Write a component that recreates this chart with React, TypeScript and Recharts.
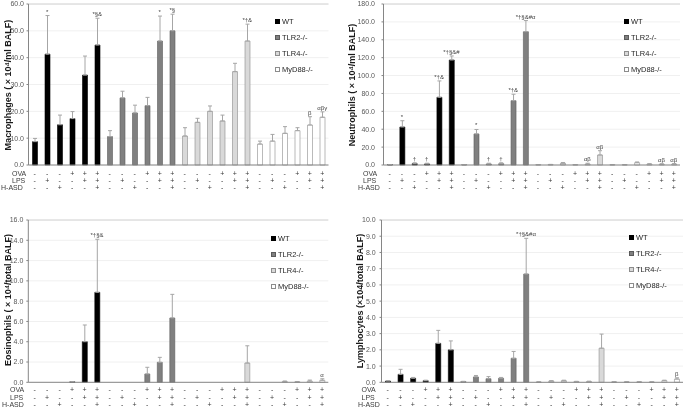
import React from "react";
import {
  ComposedChart,
  Bar,
  Cell,
  ErrorBar,
  Line,
  LabelList,
  XAxis,
  YAxis,
  CartesianGrid,
  ReferenceLine,
  Legend,
} from "recharts";

const FONT = '"Liberation Sans", Arial, Helvetica, sans-serif';

// groups of six bars, one group per mouse strain
const genotypes = ["WT", "TLR2-/-", "TLR4-/-", "MyD88-/-"];
const genoFill = ["#000000", "#808080", "#d9d9d9", "#ffffff"];
const genoStroke = ["#000000", "#5a5a5a", "#8c8c8c", "#8c8c8c"];

// treatment table under the x axis (repeats for every strain)
const rowNames = ["OVA", "LPS", "H-ASD"];
const ovaRow = ["-", "-", "-", "+", "+", "+"];
const lpsRow = ["-", "+", "-", "-", "+", "+"];
const hasdRow = ["-", "-", "+", "-", "-", "+"];
const treatRows = [ovaRow, lpsRow, hasdRow];

// Macrophages
const macroMean = [8.7, 41.3, 15.0, 17.3, 33.5, 44.7, 10.6, 25.0, 19.4, 22.1, 46.2, 50.0, 10.8, 15.9, 20.0, 16.4, 34.8, 46.2, 7.8, 8.9, 11.8, 12.8, 14.9, 17.8];
const macroErr = [1.2, 14.4, 3.6, 2.6, 7.1, 10.0, 2.2, 2.5, 2.9, 3.1, 9.3, 6.2, 3.1, 1.5, 2.0, 2.2, 3.1, 6.3, 1.1, 2.5, 2.5, 1.1, 3.1, 2.0];
const macroNote = ["", "*", "", "", "", "*§&", "", "", "", "", "*", "*§", "", "", "", "", "", "*†&", "", "", "", "", "β", "αβγ"];
const macroTicks = [0, 10, 20, 30, 40, 50, 60];

// Neutrophils
const neutMean = [0.3, 42.5, 1.5, 1.2, 75.7, 117.4, 0.3, 34.7, 1.2, 1.5, 71.9, 149.0, 0.3, 0.4, 2.0, 0.3, 1.0, 11.2, 0.3, 0.3, 2.6, 1.0, 0.8, 1.0];
const neutErr = [0.2, 7.0, 1.0, 0.8, 18.3, 4.5, 0.2, 5.0, 0.8, 1.0, 7.2, 12.5, 0.2, 0.3, 0.8, 0.2, 1.0, 4.8, 0.2, 0.2, 0.8, 0.5, 0.6, 0.6];
const neutNote = ["", "*", "†", "†", "*†&", "*†§&#", "", "*", "†", "†", "*†&", "*†§&#α", "", "", "", "", "αβ", "αβ", "", "", "", "", "αβ", "αβ"];
const neutTicks = [0, 20, 40, 60, 80, 100, 120, 140, 160, 180];

// Eosinophils
const eosMean = [0, 0, 0, 0.05, 4.0, 8.87, 0, 0, 0, 0.82, 1.97, 6.34, 0, 0, 0, 0, 0, 1.9, 0, 0, 0.08, 0.05, 0.12, 0.2];
const eosErr = [0, 0, 0, 0.02, 1.65, 5.23, 0, 0, 0, 0.66, 0.49, 2.33, 0, 0, 0, 0, 0, 1.7, 0, 0, 0.05, 0.03, 0.1, 0.15];
const eosNote = ["", "", "", "", "", "*†§&", "", "", "", "", "", "", "", "", "", "", "", "", "", "", "", "", "", "α"];
const eosTicks = [0, 2, 4, 6, 8, 10, 12, 14, 16];

// Lymphocytes
const lymMean = [0.08, 0.49, 0.25, 0.1, 2.4, 2.0, 0.05, 0.33, 0.22, 0.25, 1.48, 6.67, 0.02, 0.08, 0.1, 0.05, 0.05, 2.1, 0.03, 0.03, 0.03, 0.02, 0.1, 0.2];
const lymErr = [0.02, 0.31, 0.05, 0.03, 0.8, 0.55, 0.01, 0.09, 0.13, 0.05, 0.42, 2.2, 0.01, 0.02, 0.03, 0.01, 0.02, 0.87, 0.01, 0.01, 0.01, 0.01, 0.03, 0.08];
const lymNote = ["", "", "", "", "", "", "", "", "", "", "", "*†§&#α", "", "", "", "", "", "", "", "", "", "", "", "β"];
const lymTicks = [0, 1, 2, 3, 4, 5, 6, 7, 8, 9, 10];

function buildRows(mean: number[], err: number[], note: string[]) {
  return mean.map((v, i) => ({
    id: i,
    value: v,
    err: [0, err[i]],
    top: v + err[i],
    note: note[i],
  }));
}

type Panel = {
  title: string;
  mean: number[];
  err: number[];
  note: string[];
  ticks: number[];
  left: number;
  top: number;
  height: number;
  plotLeft: number;
  plotRight: number;
  plotTop: number;
  plotBottom: number;
  tickMargin: number;
  rowDy: number[];
  rowLabelX: number[];
  legendX: number;
  legendY: number;
  titleX: number;
  titleY: number;
};

const panels: Panel[] = [
  {
    title: "Macrophages ( × 10⁴/ml BALF)",
    mean: macroMean, err: macroErr, note: macroNote, ticks: macroTicks,
    left: 0, top: 0, height: 200,
    plotLeft: 28.5, plotRight: 328.5, plotTop: 4, plotBottom: 165,
    tickMargin: 2.5, rowDy: [8.7, 15.5, 22.3], rowLabelX: [12, 12, 1],
    legendX: 275, legendY: 21.7, titleX: 7.5, titleY: 85,
  },
  {
    title: "Neutrophils ( × 10⁴/ml BALF)",
    mean: neutMean, err: neutErr, note: neutNote, ticks: neutTicks,
    left: 345, top: 0, height: 200,
    plotLeft: 38.5, plotRight: 335, plotTop: 4, plotBottom: 165,
    tickMargin: 6.5, rowDy: [8.7, 15.5, 22.3], rowLabelX: [18, 18, 13],
    legendX: 279, legendY: 21.7, titleX: 352, titleY: 85,
  },
  {
    title: "Eosinophils ( × 10⁴/total BALF)",
    mean: eosMean, err: eosErr, note: eosNote, ticks: eosTicks,
    left: 0, top: 205, height: 203,
    plotLeft: 28.3, plotRight: 328.3, plotTop: 15, plotBottom: 177.3,
    tickMargin: 3, rowDy: [6.7, 15, 22.3], rowLabelX: [10, 10, 2],
    legendX: 271, legendY: 33.3, titleX: 7.5, titleY: 300,
  },
  {
    title: "Lymphocytes (×104/total BALF)",
    mean: lymMean, err: lymErr, note: lymNote, ticks: lymTicks,
    left: 345, top: 205, height: 203,
    plotLeft: 36.5, plotRight: 338, plotTop: 15, plotBottom: 177.3,
    tickMargin: 3.8, rowDy: [6.7, 15, 22.3], rowLabelX: [16.5, 16.5, 13],
    legendX: 284, legendY: 32.3, titleX: 359.5, titleY: 301,
  },
];

const W = 340;
const XH = 25;
const TABLE_INK = "#3a3a3a";

function TreatTick(props: any) {
  const { x, y, payload, rowDy, rowLabelX } = props;
  const k = Number(payload.value) % 6;
  return (
    <g>
      {treatRows.map((row, r) => (
        <text
          key={r}
          x={x}
          y={y + rowDy[r]}
          textAnchor="middle"
          dominantBaseline="central"
          fill={TABLE_INK}
          stroke="none"
          fontSize={7}
          fontFamily={FONT}
        >
          {row[k]}
        </text>
      ))}
      {Number(payload.value) === 0 &&
        rowNames.map((name, r) => (
          <text
            key={"n" + r}
            x={rowLabelX[r]}
            y={y + rowDy[r]}
            textAnchor="start"
            dominantBaseline="central"
            fill={TABLE_INK}
            stroke="none"
            fontSize={7}
            fontFamily={FONT}
          >
            {name}
          </text>
        ))}
    </g>
  );
}

function StrainLegend() {
  return (
    <div style={{ fontFamily: FONT, fontSize: 7.5, color: "#262626" }}>
      {genotypes.map((g, i) => (
        <div key={g} style={{ height: 16, display: "flex", alignItems: "center", whiteSpace: "nowrap" }}>
          <span
            style={{
              display: "inline-block",
              width: 3,
              height: 3,
              background: genoFill[i],
              border: `0.8px solid ${genoStroke[i]}`,
              marginRight: 2,
            }}
          />
          {g}
        </div>
      ))}
    </div>
  );
}

function CellChart({ p }: { p: Panel }) {
  const rows = buildRows(p.mean, p.err, p.note);
  const max = p.ticks[p.ticks.length - 1];
  return (
    <div style={{ position: "absolute", left: p.left, top: p.top, willChange: "transform" }}>
      <ComposedChart
        width={W}
        height={p.height}
        data={rows}
        margin={{ top: p.plotTop, right: W - p.plotRight, bottom: p.height - p.plotBottom - XH, left: 0 }}
        barCategoryGap={0}
      >
        <CartesianGrid vertical={false} stroke="#f0f0f0" />
        <ReferenceLine y={max} stroke="#d4d4d4" />
        <XAxis
          dataKey="id"
          interval={0}
          height={XH}
          tickLine={false}
          tickSize={0}
          tickMargin={0}
          axisLine={{ stroke: "#868686" }}
          tick={(tp: any) => <TreatTick {...tp} rowDy={p.rowDy} rowLabelX={p.rowLabelX} />}
        />
        <YAxis
          width={p.plotLeft}
          domain={[0, max]}
          ticks={p.ticks}
          tickFormatter={(v: number) => v.toFixed(1)}
          tick={{ fontSize: 7, fill: "#595959", fontFamily: FONT }}
          tickSize={2}
          tickMargin={p.tickMargin}
          tickLine={{ stroke: "#868686" }}
          axisLine={{ stroke: "#868686" }}
          interval={0}
        />
        <YAxis
          yAxisId="frame"
          orientation="right"
          width={0}
          domain={[0, 1]}
          tick={false}
          tickLine={false}
          axisLine={{ stroke: "#d4d4d4" }}
        />
        <Bar dataKey="value" barSize={5} isAnimationActive={false}>
          {rows.map((r, i) => (
            <Cell key={r.id} fill={genoFill[Math.floor(i / 6)]} stroke={genoStroke[Math.floor(i / 6)]} strokeWidth={0.6} />
          ))}
          <ErrorBar dataKey="err" width={2} stroke="#a6a6a6" strokeWidth={1} direction="y" />
        </Bar>
        <Line dataKey="top" stroke="none" dot={false} activeDot={false} legendType="none" isAnimationActive={false}>
          <LabelList dataKey="note" position="top" offset={2} fontSize={6} fill="#404040" fontFamily={FONT} />
        </Line>
        <Legend
          layout="vertical"
          align="center"
          verticalAlign="middle"
          wrapperStyle={{ left: p.legendX, top: p.legendY - 8, width: "auto" }}
          content={() => <StrainLegend />}
        />
      </ComposedChart>
    </div>
  );
}

export default function App() {
  return (
    <div
      style={{
        position: "absolute",
        left: 0,
        top: 0,
        width: 685,
        height: 408,
        background: "#ffffff",
        overflow: "hidden",
        fontFamily: FONT,
      }}
    >
      {panels.map((p) => (
        <CellChart key={p.title} p={p} />
      ))}
      {panels.map((p) => (
        <div
          key={"t" + p.title}
          style={{
            position: "absolute",
            left: p.titleX - 100,
            top: p.titleY - 6,
            width: 200,
            height: 12,
            lineHeight: "12px",
            textAlign: "center",
            transform: "rotate(-90deg)",
            fontSize: 9,
            fontWeight: "bold",
            color: "#1a1a1a",
            whiteSpace: "nowrap",
          }}
        >
          {p.title}
        </div>
      ))}
    </div>
  );
}
